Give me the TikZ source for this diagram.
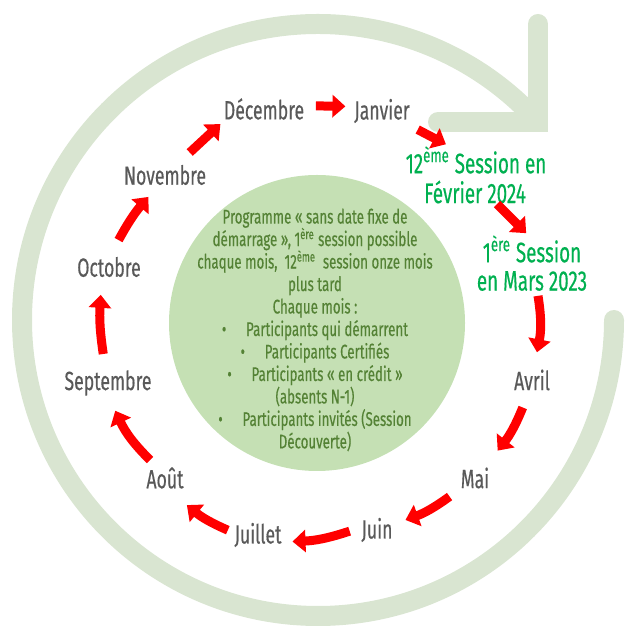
\documentclass[tikz,border=0pt]{standalone}
\usepackage{fontspec}
\setmainfont{Fira Sans}[FakeStretch=0.67, FakeBold=0.4]
\usetikzlibrary{arrows.meta, calc}
\definecolor{ringgreen}{RGB}{217, 229, 209}
\definecolor{discgreen}{RGB}{197, 224, 180}
\definecolor{textgreen}{RGB}{84, 130, 53}
\definecolor{sessgreen}{RGB}{0, 176, 80}
\definecolor{moisgray}{RGB}{89, 89, 89}
\definecolor{arrowred}{RGB}{255, 0, 0}
\tikzset{
  mois/.style={font=\fontsize{15}{17}\selectfont, text=moisgray, inner sep=0pt},
  session/.style={font=\fontsize{16}{18}\selectfont, text=sessgreen, inner sep=0pt},
  fleche/.style={arrowred, line width=0.18cm, -{Triangle[width=0.44cm, length=0.26cm]}}
}
\begin{document}
\begin{tikzpicture}[x=0.02cm, y=0.02cm]
\useasboundingbox (0,0) rectangle (625,628);
% Outer cycle ring
\draw[ringgreen, line width=0.4cm, line cap=round] (614,308) arc[start angle=0, end angle=-318, radius=296];
% Open arrow head of the ring
\draw[ringgreen, line width=0.4cm, line cap=round, line join=miter] (538,604) -- (538,506) -- (438,506);
% Central disc
\fill[discgreen] (317,305) circle[radius=148];
\node[text=textgreen, align=center, font=\fontsize{11.3}{12.8}\selectfont] (prog) at (315,298)
  {Programme « sans date fixe de\\
   démarrage », 1\textsuperscript{ère} session possible\\
   chaque mois,~ 12\textsuperscript{ème}~ session onze mois\\
   plus tard\\
   Chaque mois :\\
   \textbullet\quad Participants qui démarrent\\
   \textbullet\quad Participants Certifiés\\
   \textbullet\quad Participants « en crédit »\\
   (absents N-1)\\
   \textbullet\quad Participants invités (Session\\
   Découverte)};
% Months
\node[mois] (dec) at (264,519) {Décembre};
\node[mois] (jan) at (382,517) {Janvier};
\node[session] (feba) at (476,468) {12\textsuperscript{ème} Session en};
\node[session] (febb) at (475,436) {Février 2024};
\node[session] (mara) at (532,379) {1\textsuperscript{ère} Session};
\node[session] (marb) at (532,347) {en Mars 2023};
\node[mois] (avr) at (532,248) {Avril};
\node[mois] (mai) at (475,150) {Mai};
\node[mois] (juin) at (377,98) {Juin};
\node[mois] (juil) at (258,93) {Juillet};
\node[mois] (aout) at (165,150) {Août};
\node[mois] (sept) at (108,245) {Septembre};
\node[mois] (oct) at (109,361) {Octobre};
\node[mois] (nov) at (165,453) {Novembre};
% Red month arrows
\draw[fleche] ($(dec)!.44!(jan)+(0,4)$) -- ($(dec)!.69!(jan)+(0,4)$);
\draw[fleche] ($(jan)!.38!(feba)$) -- ($(jan)!.68!(feba)$);
\draw[fleche] ($(febb)!.30!(mara)+(5,5)$) -- ($(febb)!.81!(mara)+(5,5)$);
\draw[fleche] ($(marb)!.15!(avr)+(6,0)$) to[bend left=10] ($(marb)!.72!(avr)+(5,0)$);
\draw[fleche] ($(avr)!.25!(mai)+(5,-3)$) to[bend left=8] ($(avr)!.69!(mai)+(5,-3)$);
\draw[fleche] ($(mai)!.28!(juin)+(2,-4)$) to[bend left=8] ($(mai)!.73!(juin)+(2,-4)$);
\draw[fleche] ($(juin)!.23!(juil)$) to[bend left=8] ($(juin)!.71!(juil)+(0,-8)$);
\draw[fleche] ($(juil)!.26!(aout)+(-6,-10)$) to[bend left=8] ($(juil)!.70!(aout)+(-6,-10)$);
\draw[fleche] ($(aout)!.21!(sept)+(-3,-2)$) to[bend left=10] ($(aout)!.75!(sept)+(-7,-4)$);
\draw[fleche] ($(sept)!.25!(oct)+(-5,0)$) to[bend left=6] ($(sept)!.76!(oct)+(-8,0)$);
\draw[fleche] ($(oct)!.26!(nov)+(-5,3)$) to[bend left=6] ($(oct)!.74!(nov)+(-2,2)$);
\draw[fleche] ($(nov)!.28!(dec)+(-3,4)$) -- ($(nov)!.62!(dec)+(-6,10)$);
\end{tikzpicture}
\end{document}
